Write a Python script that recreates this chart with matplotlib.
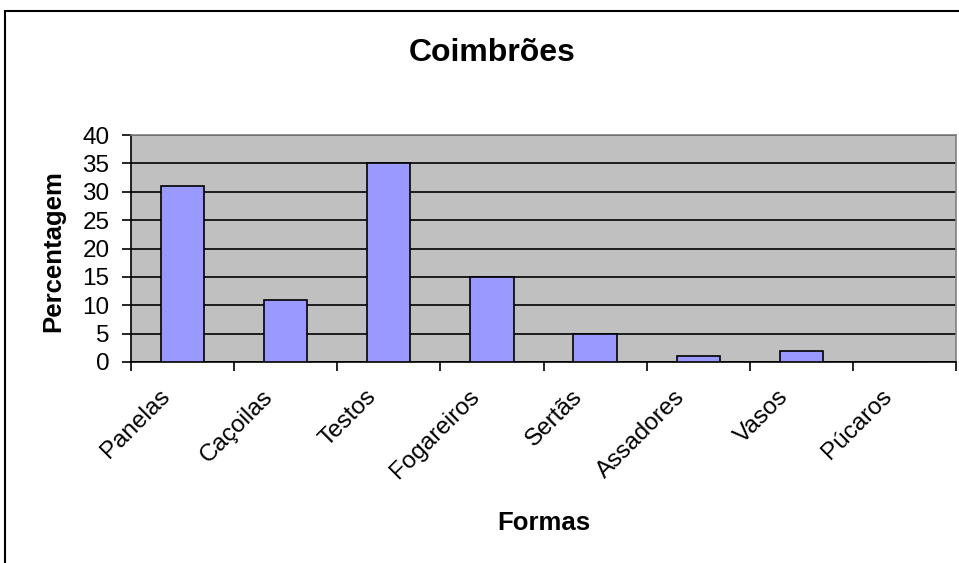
import matplotlib.pyplot as plt
import matplotlib.patches as mpatches
import matplotlib.transforms as mtransforms
import numpy as np

plt.rcParams['font.family'] = ['Liberation Sans', 'DejaVu Sans']

# Dados
formas = ['Panelas', 'Caçoilas', 'Testos', 'Fogareiros', 'Sertãs', 'Assadores', 'Vasos', 'Púcaros']
percentagem = [31, 11, 35, 15, 5, 1, 2, 0]
y_ticks = [0, 5, 10, 15, 20, 25, 30, 35, 40]

fig = plt.figure(figsize=(9.59, 5.63), dpi=100)
ax = fig.add_axes([131 / 959, 1 - 362 / 563, (956 - 131) / 959, (362 - 135) / 563])

# Moldura exterior do gráfico
fig.patches.append(mpatches.Rectangle((5 / 959, -0.05), 1.2, 1 - 11 / 563 + 0.05,
                                      transform=fig.transFigure, fill=False,
                                      edgecolor='black', linewidth=1.5))

index = np.arange(len(formas))
ax.set_facecolor('#C0C0C0')
ax.bar(index, percentagem, 0.42, color='#9999FF', edgecolor='black', linewidth=1.2, zorder=3)

ax.set_xlim(-0.5, len(formas) - 0.5)
ax.set_ylim(0, 40)
ax.set_yticks(y_ticks)
ax.yaxis.grid(True, color='black', linewidth=1.2, zorder=1)
ax.set_axisbelow(True)

# Marcas do eixo x entre categorias
ax.set_xticks(np.arange(len(formas) + 1) - 0.5)
ax.set_xticklabels([])
ax.set_xticks(index, minor=True)
ax.set_xticklabels(formas, minor=True, rotation=45, ha='right', va='top',
                   rotation_mode='anchor', fontsize=17.5)
ax.tick_params(axis='x', which='minor', length=0, pad=17)
ax.tick_params(axis='x', which='major', length=6.5, width=1.2, direction='out')
ax.tick_params(axis='y', length=6.5, width=1.2, labelsize=17.5, pad=9)

# Deslocar os rótulos rodados para a esquerda
shift = mtransforms.ScaledTranslation(-0.24, 0, fig.dpi_scale_trans)
for lbl in ax.get_xticklabels(minor=True):
    lbl.set_transform(lbl.get_transform() + shift)

for side in ['top', 'right']:
    ax.spines[side].set_color('#808080')
    ax.spines[side].set_linewidth(1.2)
for side in ['left', 'bottom']:
    ax.spines[side].set_linewidth(1.2)

fig.text(492 / 959, 1 - 53 / 563, 'Coimbrões', ha='center', va='center', fontsize=23, fontweight='bold')
fig.text(544 / 959, 1 - 523 / 563, 'Formas', ha='center', va='center', fontsize=18.5, fontweight='bold')
fig.text(53 / 959, 1 - 251 / 563, 'Percentagem', ha='center', va='center', rotation=90,
         fontsize=18.5, fontweight='bold')

plt.savefig('out.png', dpi=100)
plt.close()
